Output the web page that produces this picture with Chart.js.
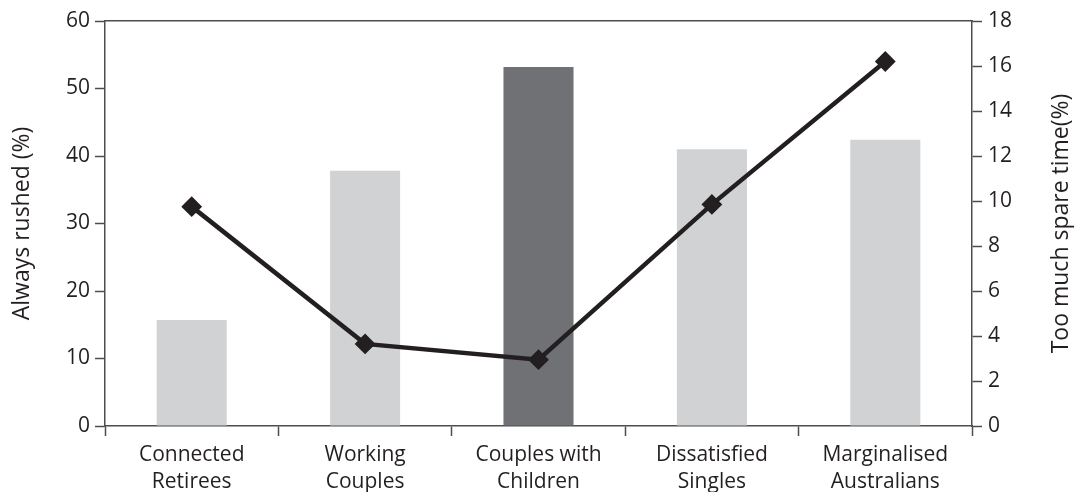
<!DOCTYPE html>
<html>
<head>
<meta charset="utf-8">
<script src="https://cdn.jsdelivr.net/npm/chart.js@4/dist/chart.umd.min.js"></script>
<style>
  html, body { margin: 0; padding: 0; background: #ffffff; overflow: hidden; }
  #wrap { position: relative; width: 1075px; height: 512px; }
</style>
</head>
<body>
<div id="wrap"><canvas id="chart"></canvas></div>
<script>
// Household groups along the horizontal axis
const categories = [
  ['Connected', 'Retirees'],
  ['Working', 'Couples'],
  ['Couples with', 'Children'],
  ['Dissatisfied', 'Singles'],
  ['Marginalised', 'Australians']
];

// Share who always feel rushed (left axis, %)
const alwaysRushed = [15.7, 37.8, 53.2, 41.0, 42.4];

// Share with too much spare time (right axis, %)
const tooMuchSpareTime = [9.75, 3.65, 2.95, 9.85, 16.2];

// Bar fills: the highlighted group is darker
const barColors = ['#d1d2d4', '#d1d2d4', '#6f7175', '#d1d2d4', '#d1d2d4'];

const leftTitle = 'Always rushed (%)';
const rightTitle = 'Too much spare time(%)';

const INK = '#231f20';
const AXIS = '#4d4d4f';
const FONT = '"Open Sans", "DejaVu Sans", sans-serif';

const W = 1075, H = 512;
const plotLeft = 105, plotRight = 972, plotTop = 21, plotBottom = 426;

// Right-hand axis title, reading bottom-to-top
const rightTitlePlugin = {
  id: 'rightTitle',
  afterDraw(chart) {
    const { ctx, chartArea } = chart;
    ctx.save();
    ctx.font = '23px ' + FONT;
    ctx.fillStyle = INK;
    ctx.textAlign = 'center';
    ctx.textBaseline = 'middle';
    ctx.translate(1061, (chartArea.top + chartArea.bottom) / 2);
    ctx.rotate(-Math.PI / 2);
    ctx.fillText(rightTitle, 0, 0);
    ctx.restore();
  }
};

new Chart(document.getElementById('chart'), {
  data: {
    labels: categories,
    datasets: [
      {
        type: 'line',
        label: rightTitle,
        data: tooMuchSpareTime,
        yAxisID: 'y1',
        xAxisID: 'x',
        borderColor: INK,
        borderWidth: 4.5,
        backgroundColor: INK,
        pointStyle: 'rectRot',
        pointRadius: 9,
        pointBorderWidth: 2,
        pointBackgroundColor: INK,
        pointBorderColor: INK,
        tension: 0,
        order: 0
      },
      {
        type: 'bar',
        label: leftTitle,
        data: alwaysRushed,
        yAxisID: 'y',
        xAxisID: 'x',
        backgroundColor: barColors,
        borderWidth: 0,
        categoryPercentage: 1.0,
        barPercentage: 0.404,
        order: 1
      }
    ]
  },
  options: {
    responsive: true,
    maintainAspectRatio: false,
    devicePixelRatio: 1,
    animation: false,
    layout: { padding: 0 },
    plugins: {
      legend: { display: false },
      tooltip: { enabled: false }
    },
    scales: {
      x: {
        type: 'category',
        position: 'bottom',
        offset: true,
        grid: {
          display: true,
          offset: true,
          drawOnChartArea: false,
          drawTicks: true,
          tickLength: 10,
          tickWidth: 1.5,
          tickColor: AXIS
        },
        border: { display: true, color: AXIS, width: 1.5 },
        ticks: {
          color: INK,
          font: { family: FONT, size: 21, lineHeight: 1.3 },
          padding: 5,
          maxRotation: 0,
          autoSkip: false
        },
        afterFit(scale) { scale.height = H - plotBottom; }
      },
      xTop: {
        type: 'category',
        position: 'top',
        offset: true,
        grid: { display: false },
        border: { display: true, color: AXIS, width: 1.5 },
        ticks: { display: false },
        afterFit(scale) { scale.height = plotTop; }
      },
      y: {
        type: 'linear',
        position: 'left',
        min: 0,
        max: 60,
        grid: {
          display: true,
          drawOnChartArea: false,
          drawTicks: true,
          tickLength: 10,
          tickWidth: 1.5,
          tickColor: AXIS
        },
        border: { display: true, color: AXIS, width: 1.5 },
        ticks: {
          stepSize: 10,
          color: INK,
          font: { family: FONT, size: 21 },
          padding: 5
        },
        title: {
          display: true,
          text: leftTitle,
          color: INK,
          font: { family: FONT, size: 23 },
          padding: { top: 9, bottom: 0 }
        },
        afterFit(scale) { scale.width = plotLeft; }
      },
      y1: {
        type: 'linear',
        position: 'right',
        min: 0,
        max: 18,
        grid: {
          display: true,
          drawOnChartArea: false,
          drawTicks: true,
          tickLength: 10,
          tickWidth: 1.5,
          tickColor: AXIS
        },
        border: { display: true, color: AXIS, width: 1.5 },
        ticks: {
          stepSize: 2,
          color: INK,
          font: { family: FONT, size: 21 },
          padding: 6
        },
        afterFit(scale) { scale.width = W - plotRight; }
      }
    }
  },
  plugins: [rightTitlePlugin]
});
</script>
</body>
</html>
